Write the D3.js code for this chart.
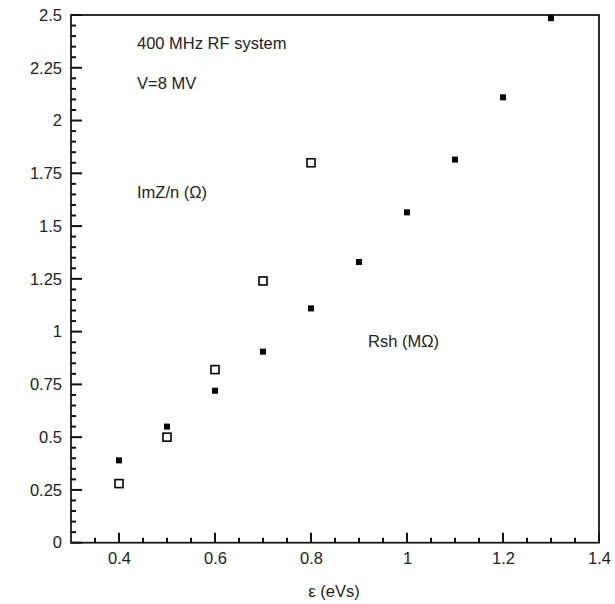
<!DOCTYPE html>
<html>
<head>
<meta charset="utf-8">
<script src="https://cdn.jsdelivr.net/npm/d3@7"></script>
<style>
  html, body { margin: 0; padding: 0; background: #fff; }
  svg { display: block; }
  text { font-family: "Liberation Sans", Arial, Helvetica, sans-serif; fill: #222; }
</style>
</head>
<body>
<svg id="chart" width="615" height="604"></svg>
<script>
// Data
const rshX = [0.4, 0.5, 0.6, 0.7, 0.8, 0.9, 1.0, 1.1, 1.2, 1.3];
const rshY = [0.39, 0.55, 0.72, 0.905, 1.11, 1.33, 1.565, 1.815, 2.11, 2.485];
const imzX = [0.4, 0.5, 0.6, 0.7, 0.8];
const imzY = [0.28, 0.50, 0.82, 1.24, 1.80];
const xTickLabels = [0.4, 0.6, 0.8, 1, 1.2, 1.4];
const yTickLabels = ["0", "0.25", "0.5", "0.75", "1", "1.25", "1.5", "1.75", "2", "2.25", "2.5"];
const annotations = ["400 MHz RF system", "V=8 MV", "ImZ/n (\u03A9)", "Rsh (M\u03A9)"];
const xTitle = "\u03B5 (eVs)";

const svg = d3.select("#chart");
const L = 71, R = 599, T = 15, B = 542.7;
const x = d3.scaleLinear().domain([0.3, 1.4]).range([L, R]);
const y = d3.scaleLinear().domain([0, 2.5]).range([B, T]);

const xMinor = d3.range(7, 28).map(i => i * 0.05).filter(v => Math.abs(Math.round(v / 0.2) * 0.2 - v) > 1e-6);
const yMinor = d3.range(1, 50).map(i => i * 0.05).filter(v => Math.abs(Math.round(v / 0.25) * 0.25 - v) > 1e-6);
const yMajor = yTickLabels.map(Number);

const fontSize = "16.5px";

// Frame
svg.append("rect").attr("x", L).attr("y", T).attr("width", R - L).attr("height", B - T)
  .attr("fill", "none").attr("stroke", "#1a1a1a").attr("stroke-width", 1.8);

// Tick marks (inward)
const tg = svg.append("g").attr("stroke", "#111").attr("stroke-width", 2);
tg.selectAll(".xmin").data(xMinor).join("line").attr("class", "xmin")
  .attr("x1", d => x(d)).attr("x2", d => x(d)).attr("y1", B).attr("y2", B - 5);
tg.selectAll(".xmaj").data(xTickLabels).join("line").attr("class", "xmaj")
  .attr("x1", d => x(d)).attr("x2", d => x(d)).attr("y1", B).attr("y2", B - 10);
tg.selectAll(".ymin").data(yMinor).join("line").attr("class", "ymin")
  .attr("y1", d => y(d)).attr("y2", d => y(d)).attr("x1", L).attr("x2", L + 5);
tg.selectAll(".ymaj").data(yMajor).join("line").attr("class", "ymaj")
  .attr("y1", d => y(d)).attr("y2", d => y(d)).attr("x1", L).attr("x2", L + 11);

// Axis labels via d3 axes
const xAxis = d3.axisBottom(x).tickValues(xTickLabels).tickSize(0).tickPadding(10)
  .tickFormat(d => String(+d.toFixed(2)));
const yAxis = d3.axisLeft(y).tickValues(yMajor).tickSize(0).tickPadding(9)
  .tickFormat((d, i) => yTickLabels[i]);

function styleAxis(g) {
  g.select(".domain").remove();
  g.selectAll("line").remove();
  g.selectAll("text").style("font-size", fontSize).attr("fill", "#222")
    .style("font-family", '"Liberation Sans", Arial, sans-serif');
}
svg.append("g").attr("transform", `translate(0,${B})`).call(xAxis).call(styleAxis);
svg.append("g").attr("transform", `translate(${L},0)`).call(yAxis).call(styleAxis);

// Filled squares (Rsh)
const fs = 6;
svg.append("g").selectAll("rect").data(rshX.map((d, i) => [d, rshY[i]])).join("rect")
  .attr("x", d => x(d[0]) - fs / 2).attr("y", d => y(d[1]) - fs / 2)
  .attr("width", fs).attr("height", fs).attr("fill", "#000");

// Open squares (ImZ/n)
const os = 8;
svg.append("g").selectAll("rect").data(imzX.map((d, i) => [d, imzY[i]])).join("rect")
  .attr("x", d => x(d[0]) - os / 2).attr("y", d => y(d[1]) - os / 2)
  .attr("width", os).attr("height", os).attr("fill", "#fff")
  .attr("stroke", "#000").attr("stroke-width", 1.6);

// Annotations
const annPos = [[137, 48.5], [137, 89], [137, 198], [368, 347]];
annotations.forEach((t, i) => {
  svg.append("text").attr("x", annPos[i][0]).attr("y", annPos[i][1])
    .style("font-size", fontSize).text(t);
});

svg.append("text").attr("x", 334).attr("y", 597).attr("text-anchor", "middle")
  .style("font-size", fontSize).text(xTitle);
</script>
</body>
</html>
